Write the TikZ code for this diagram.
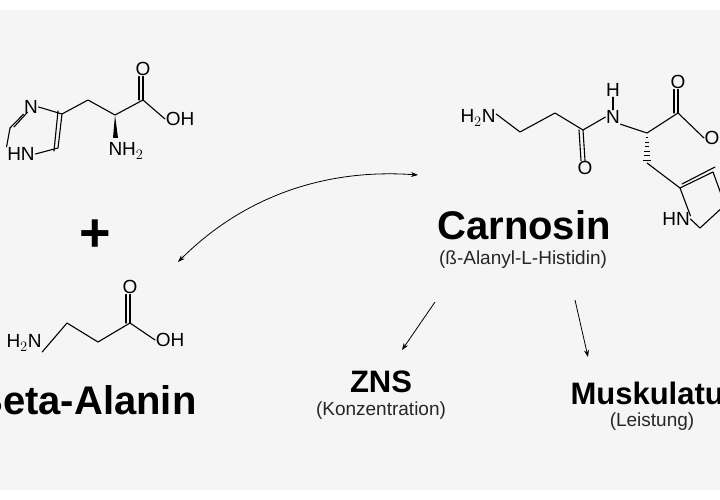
\documentclass[tikz,border=0pt]{standalone}
\usepackage{fontspec}
\setmainfont{Liberation Sans}
\usetikzlibrary{arrows.meta,calc}
\begin{document}
\begin{tikzpicture}[x=1pt,y=-1pt,
  bond/.style={line width=1.1pt,line cap=round,line join=round},
  atom/.style={font=\fontsize{19}{19}\selectfont,inner sep=0.5pt},
  title/.style={font=\fontsize{40}{40}\selectfont\bfseries},
  sub/.style={font=\fontsize{19}{19}\selectfont,text=black!85},
  mid/.style={font=\fontsize{31}{31}\selectfont\bfseries},
  arr/.style={line width=0.8pt,-{Stealth[length=7pt,width=5pt]}}]
\useasboundingbox (0,0) rectangle (720,500);
\clip (0,0) rectangle (720,500);
\fill[white] (0,0) rectangle (720,500);
\fill[black!4] (0,10) rectangle (720,490);
% Histidine
\node[atom] (hN3) at (31,107) {N};
\node[atom] (hN1) at (21,154) {HN};
\coordinate (hC2) at (10,128);
\coordinate (hC4) at (62,114);
\coordinate (hC5) at (58,148);
\coordinate (hCb) at (88,100);
\coordinate (hCa) at (115,115);
\coordinate (hC) at (143,100);
\node[atom] (hO) at (143,69) {O};
\node[atom] (hOH) at (180,119) {OH};
\node[atom] (hNH) at (126,151) {NH$_2$};
\draw[bond] (hN3.south west) -- (hC2);
\draw[bond] ([xshift=4pt,yshift=2pt]hN3.south west) -- ([xshift=4pt,yshift=1pt]hC2);
\draw[bond] (hC2) -- (hN1.north west);
\draw[bond] (hN1.east) -- (hC5) -- (hC4) -- (hN3.east);
\draw[bond] ([xshift=-4pt,yshift=3pt]hC4) -- ([xshift=-4pt,yshift=-3pt]hC5);
\draw[bond] (hC4) -- (hCb) -- (hCa) -- (hC) -- (hOH.west);
\draw[bond] (hC) -- (hO.south);
\draw[bond] ([xshift=-4pt]hC) -- ([xshift=-4pt]hO.south);
\fill (hCa) -- (113,138) -- (118,138) -- cycle;
% plus
\node[font=\fontsize{54}{54}\selectfont\bfseries] (plus) at (95,236) {+};
% Beta-alanine
\node[atom] (bN) at (24,343) {H$_2$N};
\coordinate (b1) at (67,323);
\coordinate (b2) at (98,342);
\coordinate (bC) at (130,323);
\node[atom] (bO) at (130,287) {O};
\node[atom] (bOH) at (170,340) {OH};
\draw[bond] (bN.east) ++(0,-9pt) -- (b1) -- (b2) -- (bC) -- (bOH.west);
\draw[bond] (bC) -- (bO.south);
\draw[bond] ([xshift=-4pt]bC) -- ([xshift=-4pt]bO.south);
\node[title,anchor=east] (beta) at (200,400) {Beta-Alanin};
% Carnosine
\node[atom] (cN) at (478,118) {H$_2$N};
\coordinate (c1) at (520,132);
\coordinate (c2) at (555,113);
\coordinate (cC) at (583,130);
\node[atom] (cO) at (585,168) {O};
\node[atom] (cNH) at (613,117) {N};
\node[atom] (cH) at (613,90) {H};
\coordinate (cA) at (647,133);
\coordinate (cC2) at (678,113);
\node[atom] (cO2) at (678,82) {O};
\node[atom,anchor=west] (cOH) at (704,138) {OH};
\coordinate (cB) at (647,163);
\coordinate (r1) at (680,188);
\node[atom] (rN) at (676,219) {HN};
\coordinate (r3) at (700,228);
\coordinate (r4) at (725,205);
\coordinate (r5) at (713,172);
\draw[bond] ([yshift=4pt]cN.east) -- (c1) -- (c2) -- (cC) -- (cNH.west);
\draw[bond] (cNH.south east) -- (cA) -- (cC2) -- (cOH.west);
\draw[bond] (cC) -- (cO.north);
\draw[bond] ([xshift=-4pt]cC) -- ([xshift=-4pt]cO.north);
\draw[bond] (cC2) -- (cO2.south);
\draw[bond] ([xshift=-4pt]cC2) -- ([xshift=-4pt]cO2.south);
\draw[bond] (cNH.north) -- (cH.south);
\foreach \t in {0.15,0.3,...,0.95} \draw[line width=0.9pt] ($(cA)!\t!(cB)+(-1-3*\t,0)$) -- ($(cA)!\t!(cB)+(1+3*\t,0)$);
\draw[bond] (cB) -- (r1) -- (r5) -- (r4) -- (r3) -- (rN.east);
\draw[bond] (r1) -- ([yshift=-4pt]rN.north east);
\draw[bond] ([xshift=2pt,yshift=4pt]r1) -- ([xshift=2pt,yshift=5pt]r5);
\node[title] (carn) at (524,225) {Carnosin};
\node[sub] (carnsub) at (523,260) {(ß-Alanyl-L-Histidin)};
% outcomes
\node[mid] (zns) at (381,382) {ZNS};
\node[sub] (znssub) at (381,411) {(Konzentration)};
\node[mid,anchor=west] (musk) at (567,393) {Muskulatur};
\node[sub] (musksub) at (652,422) {(Leistung)};
\coordinate (a1s) at (435,302); \coordinate (a1e) at (402,350);
\coordinate (a2s) at (575,300); \coordinate (a2e) at (588,357);
\draw[arr] (a1s) -- (a1e);
\draw[arr] (a2s) -- (a2e);
\coordinate (cs) at (418,175); \coordinate (ce) at (178,262);
\draw[line width=0.8pt,{Stealth[length=7pt,width=5pt]}-{Stealth[length=7pt,width=5pt]}] (ce) .. controls (240,200) and (320,168) .. (cs);
\end{tikzpicture}
\end{document}
